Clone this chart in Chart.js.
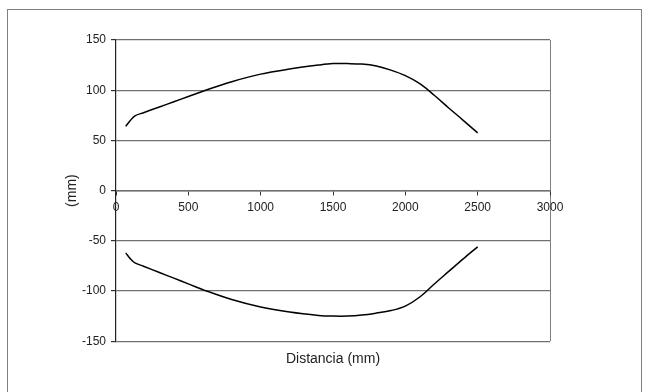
<!DOCTYPE html>
<html>
<head>
<meta charset="utf-8">
<script src="https://cdn.jsdelivr.net/npm/chart.js@4"></script>
<style>
  html, body { margin: 0; padding: 0; background: #fff; }
  #wrap { position: relative; width: 650px; height: 392px; overflow: hidden; }
  #frame { position: absolute; left: 7px; top: 9px; width: 633px; height: 420px; border: 1px solid #808080; }
  canvas { position: absolute; left: 0; top: 0; }
</style>
</head>
<body>
<div id="wrap">
  <div id="frame"></div>
  <canvas id="chart" width="650" height="392"></canvas>
</div>
<script>
const xTicks = [0, 500, 1000, 1500, 2000, 2500, 3000]
const yTicks = [-150, -100, -50, 0, 50, 100, 150]

const upperX = [67, 100, 131, 190, 300, 400, 500, 620, 800, 1000, 1200, 1400, 1500, 1600, 1700, 1800, 1900, 2000, 2100, 2200, 2300, 2400, 2500]
const upperY = [64, 70, 74.5, 77.6, 83.3, 88.5, 93.7, 100, 108.5, 116, 121, 125, 126.5, 126.5, 126, 124, 120, 114.5, 106.5, 95, 82.3, 70, 57.5]

const lowerX = [67, 100, 131, 190, 300, 400, 500, 626, 800, 1000, 1200, 1400, 1500, 1600, 1700, 1800, 1900, 2000, 2100, 2200, 2300, 2400, 2500]
const lowerY = [-62, -68, -72, -75.3, -81.6, -87.2, -92.9, -100, -108.5, -116, -121, -124.3, -125, -125, -124, -122, -119.5, -115, -106, -93, -80.5, -68, -56]

const toPoints = (xs, ys) => xs.map((x, i) => ({ x: x, y: ys[i] }))

const font = { family: "'Liberation Sans', Arial, sans-serif" }

const chart = new Chart(document.getElementById("chart"), {
  type: "scatter",
  data: {
    datasets: [
      {
        data: toPoints(upperX, upperY),
        showLine: true,
        borderColor: "#000",
        borderWidth: 1.5,
        pointRadius: 0,
        tension: 0.35,
      },
      {
        data: toPoints(lowerX, lowerY),
        showLine: true,
        borderColor: "#000",
        borderWidth: 1.5,
        pointRadius: 0,
        tension: 0.35,
      },
    ],
  },
  options: {
    responsive: false,
    animation: false,
    events: [],
    layout: {
      padding: { left: 0, top: 40, right: 100, bottom: 24 },
    },
    plugins: {
      legend: { display: false },
      tooltip: { enabled: false },
    },
    scales: {
      x: {
        type: "linear",
        position: { y: 0 },
        min: 0,
        max: 3000,
        afterBuildTicks: (scale) => {
          scale.ticks = xTicks.map((v) => ({ value: v }))
        },
        grid: {
          drawOnChartArea: true,
          color: (ctx) => (ctx.tick && ctx.tick.value === 3000 ? "#808080" : "rgba(0,0,0,0)"),
          tickColor: "#333",
          tickLength: 4,
        },
        border: { color: "#707070", width: 1.5 },
        ticks: {
          color: "#222",
          font: { ...font, size: 12 },
          padding: 6,
          maxRotation: 0,
          callback: (v) => String(v),
        },
      },
      xTitle: {
        type: "linear",
        position: "bottom",
        min: 0,
        max: 3000,
        grid: { display: false },
        border: { display: false },
        ticks: { display: false },
        title: {
          display: true,
          text: "Distancia (mm)",
          color: "#222",
          font: { ...font, size: 14 },
          padding: { top: 2, bottom: 0 },
        },
      },
      y: {
        type: "linear",
        min: -150,
        max: 150,
        afterBuildTicks: (scale) => {
          scale.ticks = yTicks.map((v) => ({ value: v }))
        },
        afterFit: (scale) => {
          scale.width = 116
        },
        grid: {
          color: "#707070",
          lineWidth: 1.2,
          tickColor: "#333",
          tickLength: 5,
        },
        border: { color: "#222", width: 1.2 },
        ticks: {
          color: "#222",
          font: { ...font, size: 12 },
          padding: 5,
        },
        title: {
          display: true,
          text: "(mm)",
          color: "#222",
          font: { ...font, size: 14 },
          padding: { top: 64, bottom: 0 },
        },
      },
    },
  },
})
</script>
</body>
</html>
